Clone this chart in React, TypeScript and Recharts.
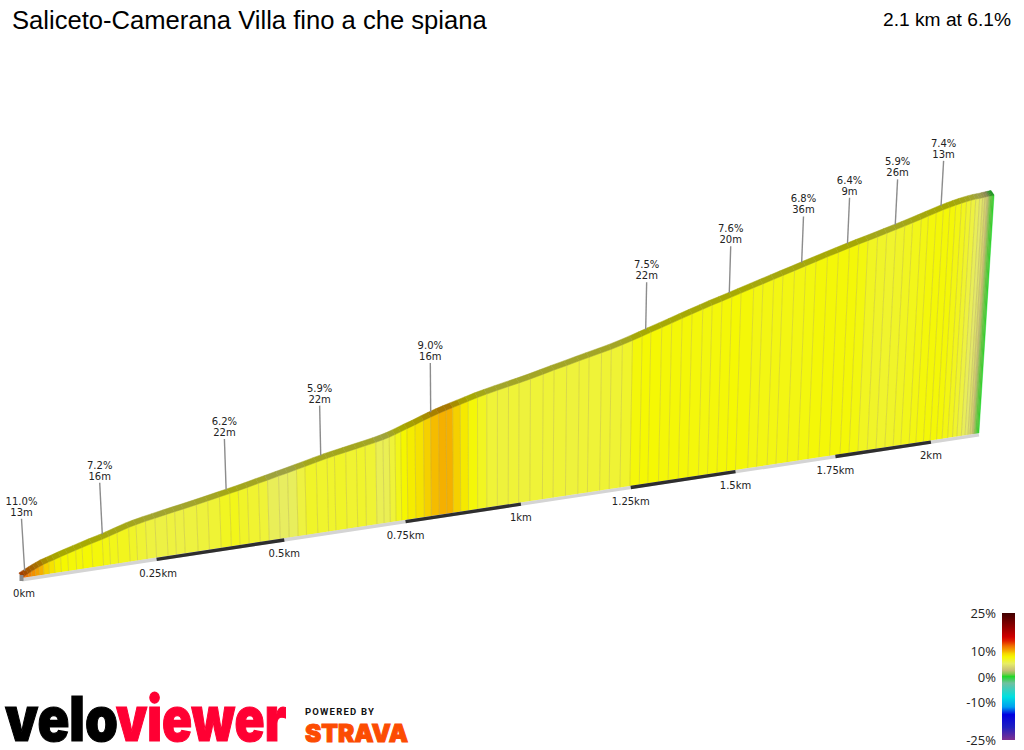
import { Bar, ComposedChart, ReferenceDot, ReferenceLine, XAxis, YAxis } from "recharts";

const CHART_WIDTH = 1024;
const CHART_HEIGHT = 750;

// distance along the climb, elevation gained at that distance, and the gradient of the stretch after it
const distanceKm = [
  0, 0.006, 0.012, 0.018, 0.025, 0.032, 0.04, 0.05, 0.06, 0.072, 0.085, 0.1, 0.112, 0.13, 0.15, 0.163, 0.178, 0.2,
  0.214, 0.232, 0.25, 0.272, 0.288, 0.305, 0.33, 0.352, 0.375, 0.395, 0.412, 0.43, 0.452, 0.47, 0.492, 0.51, 0.528,
  0.545, 0.568, 0.59, 0.605, 0.628, 0.65, 0.668, 0.69, 0.705, 0.718, 0.73, 0.742, 0.755, 0.772, 0.79, 0.805, 0.822,
  0.838, 0.852, 0.868, 0.885, 0.905, 0.925, 0.948, 0.972, 0.995, 1.02, 1.048, 1.072, 1.1, 1.128, 1.15, 1.178, 1.2,
  1.225, 1.248, 1.27, 1.29, 1.315, 1.338, 1.362, 1.385, 1.41, 1.432, 1.455, 1.478, 1.5, 1.53, 1.552, 1.578, 1.6,
  1.628, 1.655, 1.68, 1.708, 1.735, 1.762, 1.785, 1.808, 1.832, 1.855, 1.878, 1.9, 1.92, 1.942, 1.96, 1.98, 1.998,
  2.015, 2.03, 2.045, 2.058, 2.07, 2.082, 2.092, 2.1, 2.106, 2.112, 2.116, 2.12, 2.124, 2.127, 2.13,
];
const elevationM = [
  0.2, 0.9, 1.6, 2.3, 3.1, 3.8, 4.6, 5.3, 6.0, 6.9, 7.8, 8.8, 9.6, 10.8, 12.0, 12.9, 14.0, 15.6, 16.4, 17.3, 18.1,
  19.1, 19.8, 20.5, 21.6, 22.6, 23.7, 24.6, 25.4, 26.3, 27.5, 28.4, 29.6, 30.5, 31.5, 32.4, 33.7, 34.9, 35.6, 36.6,
  37.6, 38.4, 39.4, 40.2, 41.0, 41.9, 42.9, 44.0, 45.3, 46.9, 48.1, 49.4, 50.5, 51.4, 52.4, 53.5, 54.8, 55.9, 57.1,
  58.3, 59.4, 60.7, 62.3, 63.7, 65.2, 66.8, 68.0, 69.5, 70.7, 72.3, 73.9, 75.5, 77.0, 78.8, 80.5, 82.3, 84.0, 85.8,
  87.4, 88.9, 90.5, 92.0, 94.1, 95.6, 97.4, 98.9, 100.8, 102.7, 104.4, 106.3, 108.1, 109.9, 111.4, 112.8, 114.3,
  115.8, 117.3, 118.7, 120.1, 121.6, 122.9, 124.3, 125.6, 126.6, 127.5, 128.3, 128.9, 129.4, 129.8, 130.0, 130.2,
  130.4, 130.6, 130.7, 130.8, 130.9, 131.0, 131.1,
];
const gradePct = [
  12.5, 12, 11.5, 11, 10.5, 10, 9.2, 8.6, 8.0, 7.7, 7.5, 7.5, 7.6, 7.4, 7.2, 7.0, 6.9, 6.6, 6.3, 6.0, 5.9, 6.0, 5.9,
  6.0, 6.1, 6.3, 6.8, 7.0, 6.6, 6.4, 6.2, 5.4, 5.2, 5.3, 6.0, 6.6, 6.5, 6.5, 6.6, 6.4, 6.5, 6.3, 5.5, 5.5, 6.2, 7.0,
  7.8, 8.2, 8.6, 9.2, 9.7, 10.0, 10.0, 9.2, 8.3, 7.5, 6.8, 6.2, 6.1, 6.2, 6.1, 6.2, 6.2, 6.2, 6.1, 6.2, 6.2, 6.3,
  6.3, 6.5, 7.4, 7.6, 7.6, 7.5, 7.5, 7.5, 7.4, 7.3, 7.4, 7.5, 7.6, 7.5, 7.2, 7.2, 7.2, 7.2, 7.2, 7.3, 7.5, 7.5, 7.5,
  7.5, 7.3, 6.8, 6.6, 6.5, 6.6, 6.8, 7.0, 7.2, 7.4, 7.5, 7.5, 7.5, 7.2, 6.9, 6.5, 6.0, 5.4, 4.8, 4.2, 3.4, 2.4, 1.4,
  0.6, 0.2, 0, 0,
];

// distance markers under the road
const tickKm = [0, 0.25, 0.5, 0.75, 1, 1.25, 1.5, 1.75, 2];
const tickLabels = ["0km", "0.25km", "0.5km", "0.75km", "1km", "1.25km", "1.5km", "1.75km", "2km"];
const darkBands = [
  [0.25, 0.5],
  [0.75, 1],
  [1.25, 1.5],
  [1.75, 2],
];

// callouts above the profile
const calloutKm = [0.005, 0.15, 0.388, 0.577, 0.805, 1.278, 1.472, 1.645, 1.757, 1.876, 1.992];
const calloutElevationM = [0.8, 12, 24.3, 34.2, 48.1, 76, 90.1, 102, 109.6, 117.2, 125.1];
const calloutGrades = ["11.0%", "7.2%", "6.2%", "5.9%", "9.0%", "7.5%", "7.6%", "6.8%", "6.4%", "5.9%", "7.4%"];
const calloutLengths = ["13m", "16m", "22m", "22m", "16m", "22m", "20m", "36m", "9m", "26m", "13m"];

// gradient colour key
const keyGrades = [25, 19.6, 15.6, 14, 12, 10, 9, 7.7, 6, 5, 2.5, 1, 0, -2.6, -8, -12, -15, -20, -25];
const keyColors = [
  "#400000", "#900000", "#d00000", "#e02000", "#f07000", "#f5b000", "#f5d800", "#f5f800", "#eef240", "#e6ec68",
  "#c8c078", "#80c850", "#20d828", "#70c0a0", "#00e0e0", "#00a0f0", "#0000e0", "#2020c0", "#803090",
];
const keyLabels = [25, 10, 0, -10, -25];

const hexToRgb = (hex: string) => [1, 3, 5].map((i) => parseInt(hex.slice(i, i + 2), 16));

function gradeRgb(grade: number) {
  let i = 0;
  while (i < keyGrades.length - 2 && grade < keyGrades[i + 1]) i += 1;
  const t = (keyGrades[i] - grade) / (keyGrades[i] - keyGrades[i + 1]);
  const a = hexToRgb(keyColors[i]);
  const b = hexToRgb(keyColors[i + 1]);
  return a.map((v, n) => Math.round(v + (b[n] - v) * t));
}

// the picture is a 3D view, so km and metres go through a perspective before reaching the axes
function project(km: number, metres: number) {
  const depth = 1 + 0.1084 * km;
  const baseX = 22 + (553 * km) / depth;
  const baseU = 172 + 0.1514 * (baseX - 22);
  const lift = (2.235 * metres) / depth;
  const topX = baseX + (baseX - 490) * 1.3e-4 * lift;
  return { baseX, baseU, topX, topU: baseU + lift };
}

const RIBBON_X = -3;
const RIBBON_U = 4.6;

const sliceRows = distanceKm.slice(0, -1).map((km, i) => {
  const a = project(km, elevationM[i]);
  const b = project(distanceKm[i + 1], elevationM[i + 1]);
  return {
    x: a.baseX,
    face: [a.baseU, a.topU],
    grade: gradePct[i],
    run: b.baseX - a.baseX,
    baseRise: b.baseU - a.baseU,
    topRise: b.topU - a.topU,
    leanLeft: a.topX - a.baseX,
    leanRight: b.topX - b.baseX,
  };
});

const groundPoint = (km: number) => {
  const p = project(km, 0);
  return { x: p.baseX, y: p.baseU - 1.7 };
};

// axes map 1 unit to 1 pixel, so the run and rise of a slice can be added to the bar's own x and y
function Slice({ x, y, width, height, payload }: any) {
  const left = x + width / 2;
  const bottom = y + height;
  const right = left + payload.run;
  const tl = [left + payload.leanLeft, y];
  const tr = [right + payload.leanRight, y - payload.topRise];
  const rgb = gradeRgb(payload.grade);
  const fill = `rgb(${rgb.join(",")})`;
  const dark = `rgb(${rgb.map((v) => Math.round(v * 0.68)).join(",")})`;
  const facePoints = `${left},${bottom} ${right},${bottom - payload.baseRise} ${tr[0]},${tr[1]} ${tl[0]},${tl[1]}`;
  const ribbonPoints = `${tl[0]},${tl[1]} ${tr[0]},${tr[1]} ${tr[0] + RIBBON_X},${tr[1] - RIBBON_U} ${tl[0] + RIBBON_X},${tl[1] - RIBBON_U}`;
  return (
    <g>
      <polygon points={facePoints} fill={fill} stroke={fill} strokeWidth={0.5} />
      <polygon points={ribbonPoints} fill={dark} stroke={dark} strokeWidth={0.5} />
      <line x1={left} y1={bottom} x2={tl[0]} y2={tl[1]} stroke="#a8a050" strokeOpacity={0.32} strokeWidth={1} />
    </g>
  );
}

const labelFont = "'DejaVu Sans', Verdana, sans-serif";

const calloutLeader = (km: number, metres: number) => {
  const p = project(km, metres);
  const height = 52 - 3.5 * km;
  const foot = { x: p.topX, y: p.topU + 5 };
  const tip = { x: foot.x + (p.baseX - 490) * 1.3e-4 * height, y: foot.y + height };
  return { foot, tip };
};

export default function App() {
  const roadEnd = distanceKm[distanceKm.length - 1];
  const cap = project(0, 0);
  return (
    <div style={{ position: "absolute", left: 0, top: 0, width: CHART_WIDTH, height: CHART_HEIGHT, background: "#fff", overflow: "hidden" }}>
      <ComposedChart
        width={CHART_WIDTH}
        height={CHART_HEIGHT}
        data={sliceRows}
        margin={{ top: 0, right: 0, bottom: 0, left: 0 }}
      >
        <XAxis type="number" dataKey="x" domain={[0, CHART_WIDTH]} hide />
        <YAxis type="number" domain={[0, CHART_HEIGHT]} hide />
        <Bar dataKey="face" barSize={2} shape={<Slice />} isAnimationActive={false} />
        <ReferenceLine segment={[groundPoint(0), groundPoint(roadEnd)]} stroke="#d4d4d4" strokeWidth={3.4} />
        {darkBands.map(([from, to]) => (
          <ReferenceLine key={from} segment={[groundPoint(from), groundPoint(to)]} stroke="#2e2e2e" strokeWidth={3.4} />
        ))}
        <ReferenceLine
          segment={[
            { x: cap.baseX - 0.5, y: cap.baseU + 3 },
            { x: cap.baseX - 0.5, y: cap.baseU - 3 },
          ]}
          stroke="#8a8a8a"
          strokeWidth={4}
        />
        {calloutKm.map((km, i) => {
          const { foot, tip } = calloutLeader(km, calloutElevationM[i]);
          return <ReferenceLine key={km} segment={[foot, tip]} stroke="#8c8c8c" strokeWidth={1.4} />;
        })}
        {calloutKm.map((km, i) => {
          const { tip } = calloutLeader(km, calloutElevationM[i]);
          return (
            <ReferenceDot
              key={km}
              x={tip.x}
              y={tip.y}
              r={0}
              shape={({ cx, cy }: any) => (
                <text x={cx} textAnchor="middle" fontFamily={labelFont} fontSize={10} fill="#222">
                  <tspan x={cx} y={cy - 14}>{calloutGrades[i]}</tspan>
                  <tspan x={cx} y={cy - 3}>{calloutLengths[i]}</tspan>
                </text>
              )}
            />
          );
        })}
        {tickKm.map((km, i) => {
          const p = project(km, 0);
          return (
            <ReferenceDot
              key={km}
              x={p.baseX + (km === 0 ? 2 : km < 0.5 ? 1.5 : 0)}
              y={p.baseU}
              r={0}
              shape={({ cx, cy }: any) => (
                <text x={cx} y={cy + 19} textAnchor="middle" fontFamily={labelFont} fontSize={10} fill="#222">
                  {tickLabels[i]}
                </text>
              )}
            />
          );
        })}
      </ComposedChart>

      <div style={{ position: "absolute", left: 12, top: 5, fontFamily: "'Liberation Sans', Arial, sans-serif", fontSize: 25.6, lineHeight: "30px", color: "#000", whiteSpace: "nowrap" }}>
        Saliceto-Camerana Villa fino a che spiana
      </div>
      <div style={{ position: "absolute", right: 13, top: 8, fontFamily: "'Liberation Sans', Arial, sans-serif", fontSize: 19.2, lineHeight: "24px", color: "#000", whiteSpace: "nowrap" }}>
        2.1 km at 6.1%
      </div>

      <div
        style={{
          position: "absolute",
          left: 1002,
          top: 613,
          width: 13,
          height: 127,
          background: `linear-gradient(to bottom, ${keyGrades.map((g, i) => `${keyColors[i]} ${((25 - g) / 50) * 100}%`).join(", ")})`,
        }}
      />
      {keyLabels.map((g) => (
        <div
          key={g}
          style={{
            position: "absolute",
            right: 28,
            top: 676.5 - 2.54 * g - 8,
            fontFamily: "'Open Sans', sans-serif",
            fontSize: 13,
            lineHeight: "16px",
            color: "#222",
          }}
        >
          {g}%
        </div>
      ))}

      <svg style={{ position: "absolute", left: 0, top: 640 }} width={420} height={110}>
        <text transform="translate(5 101) scale(0.85 1)" fontFamily="Inter, sans-serif" fontWeight={900} fontSize={62} fill="#000" stroke="#000" strokeWidth={1.2}>velo</text>
        <text transform="translate(116 101) scale(0.8 1)" fontFamily="Inter, sans-serif" fontWeight={900} fontSize={62} fill="#ff0033" stroke="#ff0033" strokeWidth={1.2}>viewer</text>
        <text x={305} y={75} fontFamily="Roboto, sans-serif" fontWeight={700} fontSize={9.5} letterSpacing={1.2} fill="#111">POWERED BY</text>
        <text x={305} y={101.5} fontFamily="Inter, sans-serif" fontWeight={900} fontSize={24} fill="#fc4c02" stroke="#fc4c02" strokeWidth={1} textLength={103} lengthAdjust="spacingAndGlyphs">STRAVA</text>
      </svg>
    </div>
  );
}
